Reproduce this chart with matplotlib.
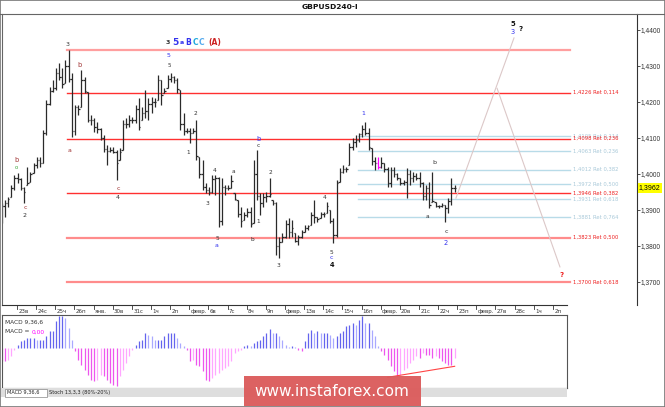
import matplotlib
matplotlib.use("Agg")
import matplotlib.pyplot as plt
from matplotlib.lines import Line2D
from matplotlib.patches import Rectangle
import numpy as np

# ---- data ----
highs = [1.3919, 1.3928, 1.3936, 1.3969, 1.3997, 1.4003, 1.3989, 1.3964, 1.4019, 1.4006,
         1.4031, 1.4047, 1.4047, 1.4122, 1.4206, 1.4242, 1.4261, 1.4294, 1.4308, 1.4294,
         1.4317, 1.4344, 1.4281, 1.4192, 1.4192, 1.4289, 1.4269, 1.4228, 1.4164, 1.4156,
         1.4144, 1.4128, 1.4108, 1.4081, 1.4075, 1.4075, 1.4067, 1.4072, 1.4150, 1.4156,
         1.4164, 1.4158, 1.4192, 1.4211, 1.4186, 1.4233, 1.4211, 1.4214, 1.4211, 1.4275,
         1.4261, 1.4239, 1.4275, 1.4281, 1.4272, 1.4267, 1.4233, 1.4169, 1.4128, 1.4128,
         1.4128, 1.4150, 1.4047, 1.4039, 1.3975, 1.3964, 1.3997, 1.3997, 1.3992, 1.3989,
         1.3969, 1.3969, 1.3997, 1.3947, 1.3928, 1.3908, 1.3894, 1.3906, 1.3908, 1.4039,
         1.4067, 1.3947, 1.3947, 1.3950, 1.3989, 1.3928, 1.3922, 1.3825, 1.3836, 1.3872,
         1.3878, 1.3872, 1.3836, 1.3831, 1.3844, 1.3858, 1.3858, 1.3894, 1.3928, 1.3881,
         1.3894, 1.3894, 1.3922, 1.3900, 1.3878, 1.3983, 1.4017, 1.4025, 1.4019, 1.4086,
         1.4100, 1.4108, 1.4114, 1.4136, 1.4144, 1.4128, 1.4072, 1.4047, 1.4047, 1.4047,
         1.4031, 1.4019, 1.4019, 1.4019, 1.4003, 1.3989, 1.3983, 1.4017, 1.4011, 1.4006,
         1.4003, 1.4006, 1.3978, 1.3969, 1.3978, 1.4006, 1.3922, 1.3914, 1.3919, 1.3914,
         1.3933, 1.3989, 1.3969]
lows = [1.3864, 1.3881, 1.3908, 1.3936, 1.3956, 1.3975, 1.3956, 1.3919, 1.3969, 1.3978,
        1.4003, 1.4017, 1.4019, 1.4031, 1.4108, 1.4192, 1.4228, 1.4233, 1.4261, 1.4239,
        1.4253, 1.4256, 1.4103, 1.4108, 1.4164, 1.4186, 1.4225, 1.4144, 1.4136, 1.4117,
        1.4114, 1.4094, 1.4061, 1.4025, 1.4061, 1.4058, 1.3983, 1.4039, 1.4067, 1.4128,
        1.4131, 1.4142, 1.4142, 1.4122, 1.4150, 1.4156, 1.4150, 1.4169, 1.4186, 1.4206,
        1.4192, 1.4225, 1.4239, 1.4256, 1.4253, 1.4225, 1.4122, 1.4108, 1.4114, 1.4086,
        1.4114, 1.4039, 1.3989, 1.3956, 1.3947, 1.3942, 1.3947, 1.3942, 1.3853, 1.3858,
        1.3942, 1.3956, 1.3961, 1.3928, 1.3881, 1.3853, 1.3872, 1.3881, 1.3853, 1.3864,
        1.3928, 1.3886, 1.3908, 1.3922, 1.3936, 1.3914, 1.3775, 1.3767, 1.3811, 1.3822,
        1.3822, 1.3825, 1.3811, 1.3803, 1.3822, 1.3839, 1.3844, 1.3858, 1.3864, 1.3867,
        1.3878, 1.3881, 1.3892, 1.3864, 1.3808, 1.3825, 1.3978, 1.4003, 1.4006, 1.4025,
        1.4067, 1.4075, 1.4089, 1.4103, 1.4108, 1.4067, 1.4025, 1.4011, 1.4014, 1.4017,
        1.4006, 1.3964, 1.3964, 1.3992, 1.3983, 1.3969, 1.3969, 1.3933, 1.3969, 1.3978,
        1.3983, 1.3964, 1.3928, 1.3928, 1.3906, 1.3922, 1.3908, 1.3906, 1.3908, 1.3867,
        1.3892, 1.3914, 1.3950]
closes = [1.3910, 1.3920, 1.3930, 1.3960, 1.3990, 1.3985, 1.3962, 1.3950, 1.3975, 1.4000,
          1.4025, 1.4040, 1.4030, 1.4115, 1.4195, 1.4230, 1.4240, 1.4280, 1.4270, 1.4250,
          1.4300, 1.4265, 1.4120, 1.4185, 1.4180, 1.4260, 1.4230, 1.4150, 1.4150, 1.4130,
          1.4125, 1.4100, 1.4070, 1.4065, 1.4068, 1.4062, 1.4030, 1.4060, 1.4140, 1.4140,
          1.4150, 1.4150, 1.4180, 1.4130, 1.4170, 1.4175, 1.4195, 1.4200, 1.4200, 1.4260,
          1.4220, 1.4230, 1.4265, 1.4270, 1.4260, 1.4235, 1.4140, 1.4120, 1.4120, 1.4115,
          1.4120, 1.4050, 1.4000, 1.3965, 1.3955, 1.3950, 1.3985, 1.3990, 1.3870, 1.3965,
          1.3960, 1.3962, 1.3980, 1.3930, 1.3890, 1.3870, 1.3885, 1.3895, 1.3860, 1.4000,
          1.3940, 1.3920, 1.3935, 1.3940, 1.3945, 1.3920, 1.3800, 1.3810, 1.3825, 1.3860,
          1.3840, 1.3850, 1.3815, 1.3825, 1.3840, 1.3850, 1.3855, 1.3885, 1.3880, 1.3875,
          1.3890, 1.3888, 1.3910, 1.3870, 1.3830, 1.3975, 1.4005, 1.4015, 1.4015, 1.4075,
          1.4090, 1.4095, 1.4110, 1.4125, 1.4115, 1.4075, 1.4035, 1.4030, 1.4020, 1.4030,
          1.4015, 1.3975, 1.4010, 1.4000, 1.3990, 1.3975, 1.3978, 1.4000, 1.3990, 1.3995,
          1.3990, 1.3975, 1.3940, 1.3960, 1.3915, 1.3925, 1.3912, 1.3910, 1.3915, 1.3905,
          1.3925, 1.3960, 1.3962]
first_open = 1.3895
marked_bar = 118
last_price = 1.3962

# MACD histogram (pips)
macd_hist = [-13, -13, -12, -8, -2,
             3, 7, 8, 10, 10, 10, 8, 8, 8, 12, 17, 17, 27, 32, 32, 30, 20, 8,
             -3, -12, -17, -22, -27, -32, -33, -32, -27, -28, -32, -35, -37, -38, -28, -22, -15, -8, -2,
             3, 7, 8, 15, 13, 12, 8, 8, 8, 12, 15, 15, 15, 10, 5, 2,
             -2, -13, -12, -17, -18, -23, -32, -33, -30, -27, -25, -22, -20, -18, -13, -5, -3, -2,
             2, 3, 2, 5, 7, 8, 12, 15, 19, 15, 15, 12, 8, 3, 1, 2, 1,
             -2, -3,
             7, 15, 18, 15, 17, 15, 15, 15, 13, 10, 12, 15, 17, 22, 23, 25, 23, 28, 32, 25, 25, 18, 12, 2,
             -3, -7, -12, -18, -23, -28, -27, -22, -20, -15, -12, -8, -10, -5, -7, -7, -10, -8, -10,
             -13, -15, -17, -17, -10]
macd_div_x = [121, 142]
macd_div_y = [-29, -18]

day_labels = ["23в", "24с", "25ч", "26п", "янв.", "30в", "31с", "1ч", "2п",
              "февр.", "6в", "7с", "8ч", "9п", "февр.", "13в", "14с", "15ч", "16п",
              "февр.", "20в", "21с", "22ч", "23п", "февр.", "27в", "28с", "1ч", "2п"]

price_ticks = [1.3700, 1.3800, 1.3900, 1.4000, 1.4100, 1.4200, 1.4300, 1.4400]

# fibonacci grids
red_levels = [1.4345, 1.4226, 1.4098, 1.3946, 1.3823, 1.3700]
red_texts = ["", "1,4226 Ret 0,114", "1,4098 Ret 0,236", "1,3946 Ret 0,382",
             "1,3823 Ret 0,500", "1,3700 Ret 0,618"]
blue_levels = [1.4105, 1.4063, 1.4012, 1.3972, 1.3931, 1.3881]
blue_texts = ["1,4105 Ret 0,114", "1,4063 Ret 0,236", "1,4012 Ret 0,382",
              "1,3972 Ret 0,500", "1,3931 Ret 0,618", "1,3881 Ret 0,764"]
red_start, blue_start, fib_end = 20.5, 111.7, 178.2

# forecast paths
path_up_x, path_up_y = [142.4, 160.6], [1.3933, 1.4378]
path_dn_x, path_dn_y = [155.3, 175.0], [1.4238, 1.3742]

# wave marks: text, bar index, price, colour, size, bold
DK, RD, BL = "#333333", "#a03333", "#3333ee"
waves = [
    ("3", 20.5, 1.4361, DK, 4.5, False),
    ("3", 52.1, 1.4364, DK, 4.5, True), ("5", 54.4, 1.4366, BL, 6.5, True),
    ("a", 56.5, 1.4364, BL, 4.5, True), ("B", 58.4, 1.4364, BL, 5.5, True),
    ("C", 60.6, 1.4364, "#22aadd", 5.5, True), ("C", 62.5, 1.4364, "#55aaee", 5.5, True),
    ("(A)", 66.8, 1.4364, "#cc2222", 5.5, True),
    ("5", 52.4, 1.4328, BL, 4.5, False), ("5", 52.4, 1.4300, DK, 4.0, False),
    ("b", 24.5, 1.4303, RD, 4.8, False), ("a", 21.4, 1.4064, RD, 4.5, False),
    ("1", 58.4, 1.4061, DK, 4.2, False), ("2", 60.6, 1.4169, DK, 4.2, False),
    ("b", 80.4, 1.4097, BL, 4.8, False), ("c", 80.4, 1.4078, DK, 4.2, False),
    ("b", 4.5, 1.4039, RD, 4.8, False), ("o", 4.5, 1.4019, "#44aa44", 4.0, False),
    ("c", 7.3, 1.3908, RD, 4.5, False), ("2", 7.3, 1.3886, DK, 4.5, False),
    ("c", 36.5, 1.3961, RD, 4.5, False), ("4", 36.5, 1.3936, DK, 4.5, False),
    ("4", 66.6, 1.4011, DK, 4.2, False), ("3", 64.4, 1.3919, DK, 4.2, False),
    ("a", 72.5, 1.4008, DK, 4.2, False),
    ("5", 67.5, 1.3822, DK, 4.2, False), ("a", 67.5, 1.3800, BL, 4.5, False),
    ("2", 84.4, 1.4003, DK, 4.2, False), ("1", 80.4, 1.3869, DK, 4.2, False),
    ("b", 78.5, 1.3819, DK, 4.2, False), ("3", 86.6, 1.3747, DK, 4.2, False),
    ("4", 101.3, 1.3936, DK, 4.2, False),
    ("5", 103.5, 1.3783, DK, 4.2, False), ("c", 103.5, 1.3767, BL, 4.5, False),
    ("4", 103.5, 1.3747, "#111111", 4.8, True),
    ("1", 113.3, 1.4167, BL, 4.5, False),
    ("b", 135.5, 1.4031, DK, 4.5, False), ("a", 133.6, 1.3883, DK, 4.2, False),
    ("c", 139.3, 1.3839, DK, 4.5, False), ("2", 139.3, 1.3808, BL, 4.8, False),
    ("5", 160.3, 1.4417, "#111111", 5.0, True), ("3", 160.3, 1.4394, BL, 4.8, False),
    ("?", 162.8, 1.4403, "#111111", 5.0, True),
    ("?", 175.6, 1.3719, "#ee2222", 5.0, True),
]

# ---- layout helpers (pixel boxes of the 665x407 picture) ----
W, H = 665, 407
def box(x0, y0, x1, y1):
    return [x0 / W, 1 - y1 / H, (x1 - x0) / W, (y1 - y0) / H]

fig = plt.figure(figsize=(W / 100, H / 100), dpi=100)
fig.patch.set_facecolor("white")

ax = fig.add_axes(box(2, 14, 637, 305))
axd = fig.add_axes(box(2, 305, 567, 315))
axm = fig.add_axes(box(2, 315, 567, 388))

# ---- price panel ----
n = len(highs)
xs = np.arange(n)
opens = np.clip(np.r_[first_open, closes[:-1]], lows, highs)
cols = ["#2a2a2a"] * n
cols[marked_bar] = "#ff00ff"
ax.vlines(xs, lows, highs, colors=cols, lw=0.9)
ax.hlines(opens, xs - 0.45, xs, colors=cols, lw=0.9)
ax.hlines(closes, xs, xs + 0.45, colors=cols, lw=0.9)

for lev, txt in zip(blue_levels, blue_texts):
    ax.plot([blue_start, fib_end], [lev, lev], color="#b8dbe8", lw=1.0, zorder=1)
    ax.text(fib_end + 0.9, lev, txt, color="#a9c9d9", fontsize=3.8, va="center", ha="left")
for k, (lev, txt) in enumerate(zip(red_levels, red_texts)):
    if k == 0:
        ax.plot([red_start, fib_end], [lev, lev], color="#ff9f9f", lw=1.6, zorder=1)
    elif lev < 1.3900:
        ax.plot([red_start, fib_end], [lev, lev], color="#ff8c8c", lw=1.6, zorder=1)
    else:
        ax.plot([red_start, fib_end], [lev, lev], color="#ff3030", lw=1.0, zorder=1)
    if txt:
        ax.text(fib_end + 0.9, lev, txt, color="#ee2222", fontsize=3.8, va="center", ha="left")

ax.plot(path_up_x, path_up_y, color="#dcc8c8", lw=0.8, zorder=1)
ax.plot(path_dn_x, path_dn_y, color="#dcc8c8", lw=0.8, zorder=1)

for txt, xi, yp, c, fs, bold in waves:
    ax.text(xi, yp, txt, color=c, fontsize=fs, ha="center", va="center",
            fontweight="bold" if bold else "normal")

ax.set_xlim(0.1, 0.1 + 635 / 3.19)
ax.set_ylim(1.44 - 275 / 3600, 1.44 + 16 / 3600)
ax.set_xticks([])
ax.yaxis.tick_right()
ax.set_yticks(price_ticks)
ax.set_yticklabels([("%.4f" % p).replace(".", ",") for p in price_ticks],
                   family="Liberation Sans")
ax.tick_params(axis="y", direction="out", length=2.0, width=0.6, pad=0.8,
               labelsize=4.8, colors="#333333")
for s in ["top", "bottom"]:
    ax.spines[s].set_visible(False)
ax.spines["left"].set_color("#666666")
ax.spines["right"].set_color("#333333")
ax.spines["left"].set_linewidth(0.8)
ax.spines["right"].set_linewidth(0.8)

ax.text(1.003, last_price, ("%.4f" % last_price).replace(".", ","),
        transform=ax.get_yaxis_transform(), fontsize=5.0, color="black",
        family="Liberation Sans", va="center", ha="left",
        bbox=dict(boxstyle="square,pad=0.2", fc="#ffff00", ec="none"))

# ---- date strip ----
axd.set_xlim(0.1, 0.1 + 565 / 3.19)
axd.set_ylim(0, 1)
for d, lab in enumerate(day_labels):
    tx = 4.8 + 6 * d
    axd.plot([tx, tx], [1, 0.6], color="#333333", lw=0.6)
    axd.text(tx + 0.4, 0.35, lab, fontsize=4.0, color="#333333", va="center", ha="left")
axd.set_xticks([])
axd.set_yticks([])
for s in ["left", "right", "bottom"]:
    axd.spines[s].set_visible(False)
axd.spines["top"].set_color("#333333")
axd.spines["top"].set_linewidth(0.8)
axd.patch.set_alpha(0)

# ---- MACD panel ----
mh = np.array(macd_hist, dtype=float)
mcols = []
for k, v in enumerate(mh):
    prev = mh[k - 1] if k > 0 else v
    if v >= 0:
        mcols.append("#6464ee" if v >= prev else "#a9a9ff")
    else:
        mcols.append("#ee55ee" if v <= prev else "#ffa6ff")
axm.vlines(np.arange(len(mh)), 0, mh, colors=mcols, lw=0.9)
axm.plot(macd_div_x, macd_div_y, color="#ff4444", lw=0.8)
axm.set_xlim(0.1, 0.1 + 565 / 3.19)
axm.set_ylim(-39.7, 33.3)
axm.set_xticks([])
axm.set_yticks([])
for s in axm.spines.values():
    s.set_color("#555555")
    s.set_linewidth(0.8)
axm.text(0.006, 0.9, "MACD 9,36,6", transform=axm.transAxes, fontsize=4.2,
         color="#333333", va="center")
axm.text(0.006, 0.77, "MACD =", transform=axm.transAxes, fontsize=4.2,
         color="#333333", va="center")
axm.text(0.052, 0.77, "0,00", transform=axm.transAxes, fontsize=4.2,
         color="#ff00ff", va="center")

# ---- frame, title, tabs, watermark ----
fig.add_artist(Line2D([0, 1], [1 - 14 / H, 1 - 14 / H], color="#666666", lw=0.8))
fig.text(330 / W, 1 - 7 / H, "GBPUSD240-I", fontsize=5.4, fontweight="bold",
         ha="center", va="center", color="#111111")
fig.add_artist(Rectangle((0, 1 - 397 / H), 567 / W, 9 / H, fc="#dedede", ec="none"))
fig.add_artist(Rectangle((5 / W, 1 - 397 / H), 42 / W, 8 / H, fc="white", ec="#888888", lw=0.5))
fig.text(7 / W, 1 - 392.5 / H, "MACD 9,36,6", fontsize=3.6, color="#222222", va="center")
fig.text(49 / W, 1 - 392.5 / H, "Stoch 13,3,3 (80%-20%)", fontsize=3.6, color="#222222", va="center")
fig.add_artist(Rectangle((244 / W, 1 - 406 / H), 177 / W, 30 / H, fc="#db5a5a", ec="none", alpha=0.95))
fig.text(332 / W, 1 - 391 / H, "www.instaforex.com", fontsize=11, color="white",
         ha="center", va="center")
fig.add_artist(Rectangle((0, 0), 1, 1, fill=False, ec="#777777", lw=1.2))

fig.savefig("out.png", dpi=100)
